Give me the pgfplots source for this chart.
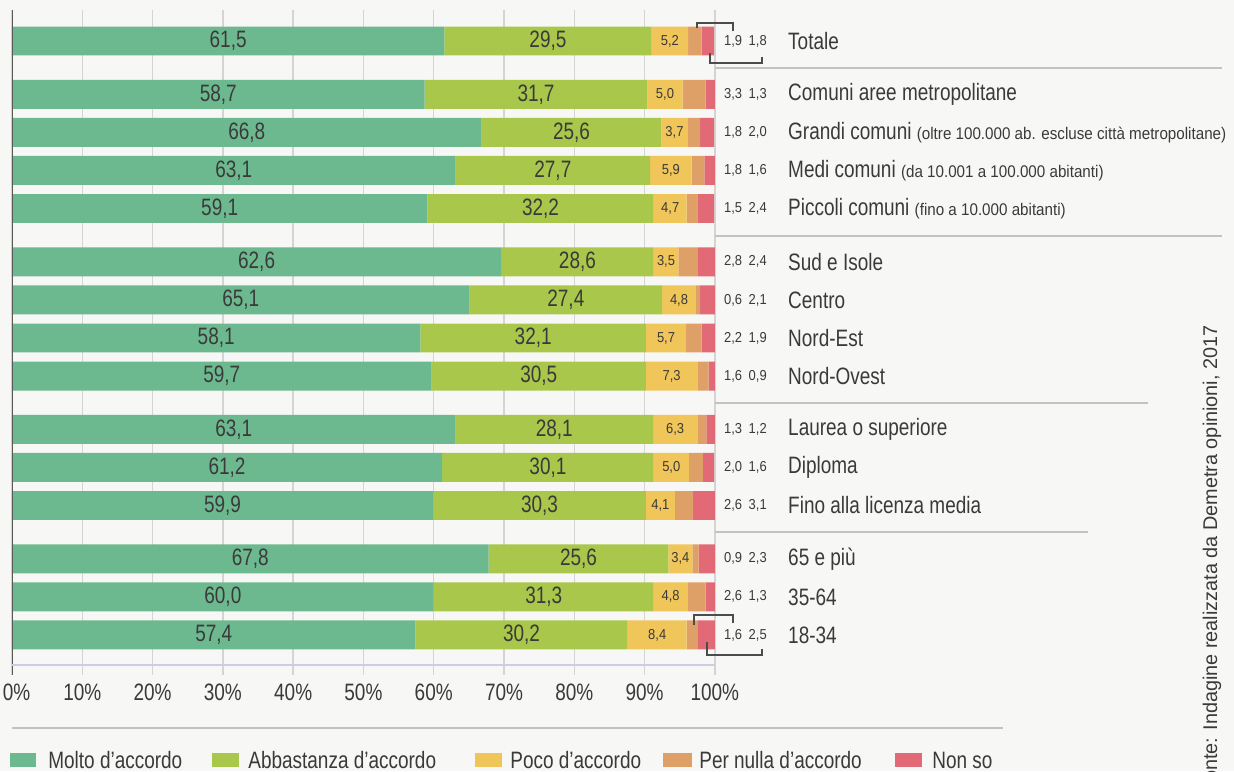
\documentclass[border=0pt]{standalone}
\usepackage{fontspec}
\usepackage{pgfplots}
\pgfplotsset{compat=1.18}
\usepackage{pgfplotstable}
\setmainfont{Liberation Sans}[FakeStretch=0.8]
\newfontfamily\narrowsmall{Liberation Sans}[FakeStretch=0.9]
\newfontfamily\srcfont{Liberation Sans}
\definecolor{cMol}{HTML}{6DB98F}
\definecolor{cAbb}{HTML}{A8C74B}
\definecolor{cPoc}{HTML}{F0C65B}
\definecolor{cPer}{HTML}{DFA068}
\definecolor{cNon}{HTML}{E26A77}
\definecolor{bgc}{HTML}{F7F7F5}
\definecolor{txt}{HTML}{3A3A3A}
\definecolor{gridc}{HTML}{D4D4D4}
\definecolor{sepc}{HTML}{C2C2C2}
\definecolor{lavc}{HTML}{CFCAE6}
\newcommand{\fb}{\fontsize{13.5}{16}\selectfont}
\newcommand{\fs}{\narrowsmall\fontsize{8.2}{10}\selectfont}
\newcommand{\psmall}{\narrowsmall\fontsize{9.6}{11}\selectfont}

\pgfplotstableread{
pos  mol  abb  poc per non Lmol Labb Lpoc Lper Lnon
0    61.5 29.5 5.2 1.9 1.8 61,5 29,5 5,2 1,9 1,8
1.4  58.7 31.7 5.0 3.3 1.3 58,7 31,7 5,0 3,3 1,3
2.4  66.8 25.6 3.7 1.8 2.0 66,8 25,6 3,7 1,8 2,0
3.4  63.1 27.7 5.9 1.8 1.6 63,1 27,7 5,9 1,8 1,6
4.4  59.1 32.2 4.7 1.5 2.4 59,1 32,2 4,7 1,5 2,4
5.8  69.6 21.7 3.5 2.8 2.4 62,6 28,6 3,5 2,8 2,4
6.8  65.1 27.4 4.8 0.6 2.1 65,1 27,4 4,8 0,6 2,1
7.8  58.1 32.1 5.7 2.2 1.9 58,1 32,1 5,7 2,2 1,9
8.8  59.7 30.5 7.3 1.6 0.9 59,7 30,5 7,3 1,6 0,9
10.2 63.1 28.1 6.3 1.3 1.2 63,1 28,1 6,3 1,3 1,2
11.2 61.2 30.1 5.0 2.0 1.6 61,2 30,1 5,0 2,0 1,6
12.2 59.9 30.3 4.1 2.6 3.1 59,9 30,3 4,1 2,6 3,1
13.6 67.8 25.6 3.4 0.9 2.3 67,8 25,6 3,4 0,9 2,3
14.6 60.0 31.3 4.8 2.6 1.3 60,0 31,3 4,8 2,6 1,3
15.6 57.4 30.2 8.4 1.6 2.5 57,4 30,2 8,4 1,6 2,5
}\data

\pgfplotsset{
  common/.style={
    at={(0.24cm,-13.5cm)}, anchor=south west,
    scale only axis, width=14.06cm, height=13.3cm,
    xmin=0, xmax=100, ymin=-0.8141, ymax=16.649, y dir=reverse,
  }
}

\begin{document}
\begin{tikzpicture}
\begin{scope}[x=0.02cm,y=-0.02cm]
\fill[bgc] (0,0) rectangle (1234,771);
\end{scope}

\begin{axis}[
  common,
  xbar stacked, bar width=0.76,
  axis line style={draw=none},
  major tick length=0pt, tick style={draw=none},
  xtick={0,10,...,100},
  xticklabels={{\kern0.18cm0\%},10\%,20\%,30\%,40\%,50\%,60\%,70\%,80\%,90\%,100\%},
  xticklabel style={font=\fb, text=txt, yshift=-0.06cm},
  xmajorgrids, grid style={gridc, line width=0.85pt},
  ytick={0,1.4,2.4,3.4,4.4,5.8,6.8,7.8,8.8,10.2,11.2,12.2,13.6,14.6,15.6},
  yticklabels={
    {Totale},
    {Comuni aree metropolitane},
    {Grandi comuni {\psmall (oltre 100.000 ab. escluse città metropolitane)}},
    {Medi comuni {\psmall (da 10.001 a 100.000 abitanti)}},
    {Piccoli comuni {\psmall (fino a 10.000 abitanti)}},
    {Sud e Isole},{Centro},{Nord-Est},{Nord-Ovest},
    {Laurea o superiore},{Diploma},{Fino alla licenza media},
    {65 e più},{35-64},{18-34}},
  yticklabel pos=right,
  yticklabel style={anchor=west, inner sep=0pt, xshift=1.46cm, font=\fb, text=txt},
]
\addplot[fill=cMol, draw=none] table[x=mol, y=pos]{\data};
\addplot[fill=cAbb, draw=none] table[x=abb, y=pos]{\data};
\addplot[fill=cPoc, draw=none] table[x=poc, y=pos]{\data};
\addplot[fill=cPer, draw=none] table[x=per, y=pos]{\data};
\addplot[fill=cNon, draw=none] table[x=non, y=pos]{\data};
\end{axis}

\begin{axis}[
  common, hide axis, clip=false,
  nodes near coords, point meta=explicit symbolic,
  nodes near coords align=center,
]
\addplot[draw=none, mark=none, every node near coord/.append style={font=\fb, text=txt}]
  table[x expr=\thisrow{mol}/2, y=pos, meta=Lmol]{\data};
\addplot[draw=none, mark=none, every node near coord/.append style={font=\fb, text=txt}]
  table[x expr=\thisrow{mol}+\thisrow{abb}/2, y=pos, meta=Labb]{\data};
\addplot[draw=none, mark=none, every node near coord/.append style={font=\fs, text=txt}]
  table[x expr=\thisrow{mol}+\thisrow{abb}+\thisrow{poc}/2, y=pos, meta=Lpoc]{\data};
\addplot[draw=none, mark=none, every node near coord/.append style={font=\fs, text=txt}]
  table[x expr=102.6, y=pos, meta=Lper]{\data};
\addplot[draw=none, mark=none, every node near coord/.append style={font=\fs, text=txt}]
  table[x expr=106.1, y=pos, meta=Lnon]{\data};
\end{axis}

\begin{scope}[x=0.02cm,y=-0.02cm]
% left axis line and bottom lines
\draw[color=black!65, line width=1.1pt] (12.5,10) -- (12.5,675);
\draw[lavc, line width=1pt] (12,665) -- (715,665);
\draw[sepc, line width=1.1pt] (12,728) -- (1003,728);
% group separators
\draw[sepc, line width=1pt] (715,68) -- (1222,68);
\draw[sepc, line width=1pt] (715,236) -- (1222,236);
\draw[sepc, line width=1pt] (715,403) -- (1148,403);
\draw[sepc, line width=1pt] (715,532) -- (1088,532);
% brackets
\draw[black!70, line width=0.85pt] (697,28) -- (697,23) -- (733,23) -- (733,31);
\draw[black!70, line width=0.85pt] (710,53) -- (710,63) -- (762,63) -- (762,57);
\draw[black!70, line width=0.85pt] (694,625) -- (694,615) -- (733,615) -- (733,623);
\draw[black!70, line width=0.85pt] (707,642) -- (707,655) -- (762,655) -- (762,649);
% legend
\fill[cMol] (10,753) rectangle (36,767);
\node[anchor=west, inner sep=0pt, font=\fb, text=txt] at (48,760) {Molto d’accordo};
\fill[cAbb] (212,753) rectangle (239,767);
\node[anchor=west, inner sep=0pt, font=\fb, text=txt] at (248,760) {Abbastanza d’accordo};
\fill[cPoc] (475,753) rectangle (502,767);
\node[anchor=west, inner sep=0pt, font=\fb, text=txt] at (510,760) {Poco d’accordo};
\fill[cPer] (663,753) rectangle (692,767);
\node[anchor=west, inner sep=0pt, font=\fb, text=txt] at (699,760) {Per nulla d’accordo};
\fill[cNon] (895,753) rectangle (922,767);
\node[anchor=west, inner sep=0pt, font=\fb, text=txt] at (932,760) {Non so};
% source
\node[rotate=90, anchor=east, inner sep=0pt, font=\srcfont\fontsize{11.3}{13}\selectfont, text=txt]
  at (1212,325) {Fonte: Indagine realizzata da Demetra opinioni, 2017};
\pgfresetboundingbox
\path[use as bounding box] (0,0) rectangle (1234,771);
\end{scope}
\end{tikzpicture}
\end{document}
